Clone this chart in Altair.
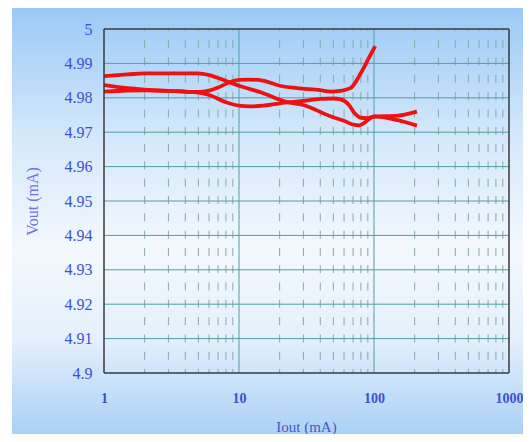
import altair as alt
import pandas as pd

# ---- data ----
c1_x = [1, 1.5, 2, 3, 5, 6, 8, 10, 15, 22, 30, 47, 60, 70, 78, 88, 100, 150, 208]
c1_y = [4.9863, 4.9868, 4.9871, 4.9871, 4.9871, 4.9866, 4.9849, 4.9835, 4.9814, 4.9789,
        4.9779, 4.9747, 4.9733, 4.9722, 4.9720, 4.9732, 4.9746, 4.9735, 4.9719]

c2_x = [1, 1.5, 2, 3, 5, 6, 7, 8.5, 10, 12, 15, 20, 27, 40, 48, 56, 67, 80, 90, 102]
c2_y = [4.9837, 4.9828, 4.9824, 4.9820, 4.9817, 4.9821, 4.9830, 4.9845, 4.9852, 4.9853,
        4.9850, 4.9835, 4.9828, 4.9822, 4.9818, 4.9820, 4.9828, 4.9872, 4.9910, 4.9950]

c3_x = [1, 2, 3, 5, 6, 8, 10, 12, 15, 20, 30, 40, 50, 56, 65, 72, 80, 90, 100, 150, 208]
c3_y = [4.9818, 4.9822, 4.9820, 4.9815, 4.9808, 4.9787, 4.9777, 4.9775, 4.9777, 4.9784,
        4.9791, 4.9797, 4.9798, 4.9796, 4.9780, 4.9755, 4.9742, 4.9741, 4.9745, 4.9748, 4.9760]

x_ticks = [1, 10, 100, 1000]
y_ticks = [4.9, 4.91, 4.92, 4.93, 4.94, 4.95, 4.96, 4.97, 4.98, 4.99, 5.0]
minor_x = [2, 3, 4, 5, 6, 7, 8, 9, 20, 30, 40, 50, 60, 70, 80, 90,
           200, 300, 400, 500, 600, 700, 800, 900]

rows = []
for name, xs, ys in [("c1", c1_x, c1_y), ("c2", c2_x, c2_y), ("c3", c3_x, c3_y)]:
    for a, b in zip(xs, ys):
        rows.append({"curve": name, "I": a, "V": b})
df = pd.DataFrame(rows)
minor_df = pd.DataFrame({"I": minor_x})
hgrid_df = pd.DataFrame({"V": y_ticks[1:-1]})
vgrid_df = pd.DataFrame({"I": x_ticks[1:-1]})
hborder_df = pd.DataFrame({"V": [y_ticks[0], y_ticks[-1]]})
vborder_df = pd.DataFrame({"I": [x_ticks[0], x_ticks[-1]]})

W, H = 405, 344
FONT = "Liberation Serif"
LABEL_C = "#3c50d0"
GRID_C = "#4f9fa3"
BORDER_C = "#3a3a3a"

xscale = alt.Scale(type="log", domain=[1, 1000], nice=False)
yscale = alt.Scale(domain=[4.9, 5.0], nice=False, zero=False)

grad = alt.LinearGradient(
    gradient="linear",
    stops=[
        alt.GradientStop(color="#9ac9f6", offset=0),
        alt.GradientStop(color="#d6e9fb", offset=0.3),
        alt.GradientStop(color="#f3f8fd", offset=0.55),
        alt.GradientStop(color="#e4f0fc", offset=0.75),
        alt.GradientStop(color="#a1ccf5", offset=1),
    ],
    x1=0, x2=0, y1=0, y2=1,
)

x_axis = alt.Axis(values=x_ticks, format="d", title="Iout (mA)",
                  grid=False, ticks=False, domain=False, zindex=1,
                  labelFlush=False, labelOverlap=False,
                  labelFont=FONT, labelFontSize=14, labelFontWeight="bold",
                  labelColor=LABEL_C, labelPadding=18,
                  titleFont=FONT, titleFontSize=15, titleFontWeight="normal",
                  titleColor="#4858c4", titleX=202, titleY=53,
                  titleBaseline="middle")
y_axis = alt.Axis(values=y_ticks, format="~g", title="Vout (mA)",
                  grid=False, ticks=False, domain=False, zindex=1,
                  labelFlush=False, labelOverlap=False,
                  labelFont=FONT, labelFontSize=16, labelColor=LABEL_C,
                  labelPadding=12,
                  titleFont=FONT, titleFontSize=16, titleFontWeight="normal",
                  titleColor="#7474e0", titleAngle=270,
                  titleX=-72, titleY=172, titleAlign="center",
                  titleBaseline="middle")

def X(f="I:Q"):
    return alt.X(f, scale=xscale, axis=x_axis)

def Y(f="V:Q"):
    return alt.Y(f, scale=yscale, axis=y_axis)

lines = alt.Chart(df).mark_line(
    color="#ee1111", strokeWidth=3.8, interpolate="monotone", clip=True
).encode(x=X(), y=Y(), detail="curve:N")

bg = alt.Chart(pd.DataFrame({"d": [0]})).mark_rect(fill=grad, strokeWidth=0).encode(
    x=alt.value(-92), x2=alt.value(430), y=alt.value(-22), y2=alt.value(420)
)

minor = alt.Chart(minor_df).mark_rule(
    color="#86a9aa", strokeWidth=1, strokeDash=[8, 9.3], strokeDashOffset=6
).encode(x=X())

hgrid = alt.Chart(hgrid_df).mark_rule(color=GRID_C, strokeWidth=1).encode(y=Y())
vgrid = alt.Chart(vgrid_df).mark_rule(color=GRID_C, strokeWidth=1).encode(x=X())

hborder = alt.Chart(hborder_df).mark_rule(color=BORDER_C, strokeWidth=1.5).encode(y=Y())
vborder = alt.Chart(vborder_df).mark_rule(color=BORDER_C, strokeWidth=1.5).encode(x=X())

chart = alt.layer(bg, minor, hgrid, vgrid, lines, hborder, vborder).properties(
    width=W, height=H,
    autosize=alt.AutoSizeParams(type="none"),
    padding={"left": 96, "top": 21, "right": 14, "bottom": 61},
    background="white",
).configure_view(
    stroke=None
)

chart.save("out.html", embed_options={"renderer": "svg", "actions": False})
